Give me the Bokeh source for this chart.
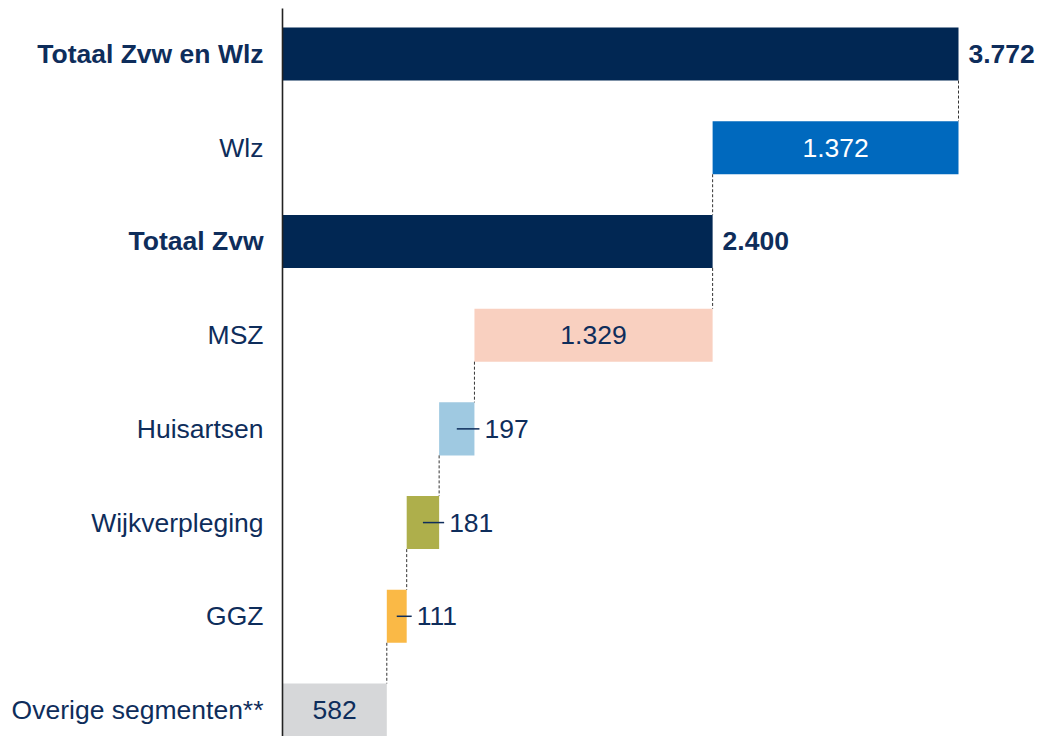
from bokeh.plotting import figure
from bokeh.models import Range1d
from bokeh.embed import file_html
from bokeh.resources import INLINE
from bokeh.core.properties import value

# ---- data ----
categories = ["Totaal Zvw en Wlz", "Wlz", "Totaal Zvw", "MSZ", "Huisartsen",
              "Wijkverpleging", "GGZ", "Overige segmenten**"]
values = [3772, 1372, 2400, 1329, 197, 181, 111, 582]
is_total = [True, False, True, False, False, False, False, False]
value_labels = ["3.772", "1.372", "2.400", "1.329", "197", "181", "111", "582"]

# ---- styles ----
bar_colors = ["#012753", "#0069BE", "#012753", "#F9D0C0", "#9FC9E1",
              "#AEAF4B", "#FAB946", "#D6D7D9"]
inside_text_colors = ["#FFFFFF", "#FFFFFF", "#FFFFFF", "#0E2D5B", "#0E2D5B",
                      "#0E2D5B", "#0E2D5B", "#0E2D5B"]
NAVY = "#0E2D5B"
FONT = value("Liberation Sans")
FS = "26.5px"

n = len(categories)
# waterfall: build from the bottom up
starts = [0] * n
ends = [0] * n
running = 0
for i in reversed(range(n)):
    if is_total[i]:
        starts[i], ends[i] = 0, values[i]
    else:
        starts[i], ends[i] = running, running + values[i]
        running = ends[i]

ys = [n - 1 - i for i in range(n)]
BAR_H = 0.566

W, H = 1035, 736
AXIS_PX = 282
ppu = 676 / 3772.0          # pixels per data unit
x_start = -AXIS_PX / ppu
x_end = x_start + W / ppu
row_px = 93.71
y_start = -(H - 709.5) / row_px
y_end = 709.5 / row_px
y_axis_top = (709.5 - 8) / row_px

p = figure(width=W, height=H, output_backend="svg", toolbar_location=None,
           x_range=Range1d(x_start, x_end), y_range=Range1d(y_start, y_end),
           x_axis_location=None, y_axis_location=None, min_border=0)
p.grid.visible = False
p.outline_line_color = None
p.background_fill_color = "white"
p.border_fill_color = "white"

# bars
p.hbar(y=ys, left=starts, right=ends, height=BAR_H, fill_color=bar_colors,
       line_color=None)

# axis line
p.segment(x0=[0], y0=[y_start], x1=[0], y1=[y_axis_top], line_color="#222222",
          line_width=1.6)

# connectors
cx, cy0, cy1 = [], [], []
for i in range(n - 1):
    shared = {starts[i], ends[i]} & {starts[i + 1], ends[i + 1]}
    shared.discard(0)
    if shared:
        xv = max(shared)
        cx.append(xv)
        cy0.append(ys[i] - BAR_H / 2)
        cy1.append(ys[i + 1] + BAR_H / 2)
p.segment(x0=cx, y0=cy0, x1=cx, y1=cy1, line_color="#333333", line_width=1,
          line_dash="3 2")

# category labels
for bold in (True, False):
    idx = [i for i in range(n) if is_total[i] == bold]
    p.text(x=[0] * len(idx), y=[ys[i] for i in idx], text=[categories[i] for i in idx],
           x_offset=-19, text_align="right", text_baseline="middle",
           text_font=FONT, text_font_size=FS,
           text_font_style="bold" if bold else "normal", text_color=NAVY)

# value labels
tot = [i for i in range(n) if is_total[i]]
p.text(x=[ends[i] for i in tot], y=[ys[i] for i in tot],
       text=[value_labels[i] for i in tot], x_offset=10, text_align="left",
       text_baseline="middle", text_font=FONT, text_font_size=FS,
       text_font_style="bold", text_color=NAVY)

inside = [i for i in range(n) if not is_total[i] and values[i] * ppu >= 80]
p.text(x=[(starts[i] + ends[i]) / 2 for i in inside], y=[ys[i] for i in inside],
       text=[value_labels[i] for i in inside], text_align="center",
       text_baseline="middle", text_font=FONT, text_font_size=FS,
       text_color=[inside_text_colors[i] for i in inside])

small = [i for i in range(n) if not is_total[i] and values[i] * ppu < 80]
p.text(x=[ends[i] for i in small], y=[ys[i] for i in small],
       text=[value_labels[i] for i in small], x_offset=10, text_align="left",
       text_baseline="middle", text_font=FONT, text_font_size=FS, text_color=NAVY)
p.segment(x0=[(starts[i] + ends[i]) / 2 for i in small], y0=[ys[i] for i in small],
          x1=[ends[i] + 5 / ppu for i in small], y1=[ys[i] for i in small],
          line_color=NAVY, line_width=1.5)

open("out.html", "w").write(file_html(p, INLINE))
